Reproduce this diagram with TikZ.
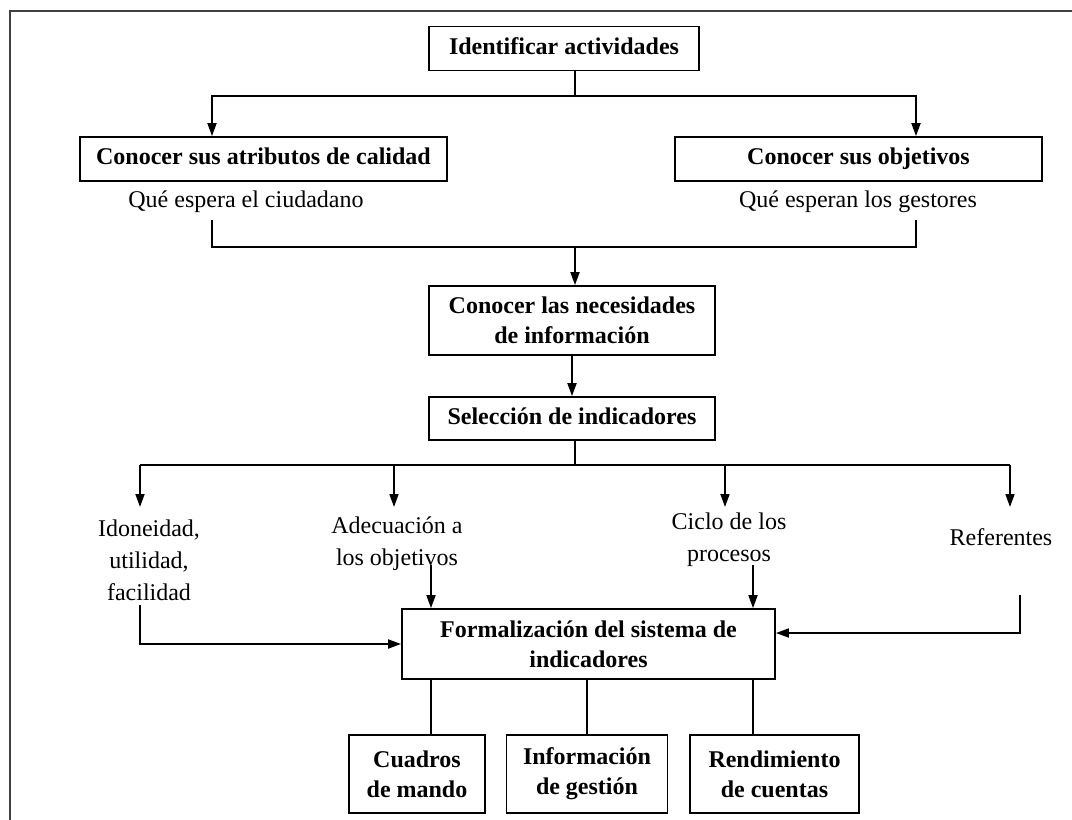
\documentclass[tikz,border=0pt]{standalone}
\usepackage{fontspec}
\setmainfont{Liberation Serif}
\usetikzlibrary{
  positioning,
  arrows.meta
}
\tikzset{
  box/.style={draw, rectangle, align=center, inner sep=0pt,
    font=\bfseries\fontsize{24}{30}\selectfont},
  oneline/.style={text height=17pt, text depth=6pt},
  lbl/.style={align=center, inner sep=0pt,
    font=\fontsize{24}{32}\selectfont}
}

\begin{document}
\begin{tikzpicture}[x=1pt, y=-1pt, ->, >={Triangle[length=13pt,width=9pt]}, line width=1.8pt]
    \useasboundingbox (0,0) rectangle (1072,820);
    % marco
    \draw[-, line width=2.2pt, black!75] (10,820) |- (1072,11);

    \node[box, oneline, minimum width=270pt, minimum height=44pt] (ident) at (564,48.5) {Identificar actividades};
    \node[box, oneline, minimum width=367pt, minimum height=44pt] (atrib) at (263.5,159) {Conocer sus atributos de calidad};
    \node[box, oneline, minimum width=367pt, minimum height=44pt] (objet) at (858.5,159) {Conocer sus objetivos};
    \node[lbl] (ciud) at (246,202) {Qué espera el ciudadano};
    \node[lbl] (gest) at (858,202) {Qué esperan los gestores};
    \node[box, minimum width=286pt, minimum height=69pt] (neces) at (572,320.5) {Conocer las necesidades\\de información};
    \node[box, oneline, minimum width=286pt, minimum height=43pt] (selec) at (572,418.5) {Selección de indicadores};
    \node[lbl] (idon) at (149,560) {Idoneidad,\\utilidad,\\facilidad};
    \node[lbl] (adec) at (397,544) {Adecuación a\\los objetivos};
    \node[lbl] (ciclo) at (729,540) {Ciclo de los\\procesos};
    \node[lbl] (refe) at (1001,537) {Referentes};
    \node[box, minimum width=373pt, minimum height=70pt] (formal) at (588.5,644) {Formalización del sistema de\\indicadores};
    \node[box, minimum width=136pt, minimum height=78pt] (cuad) at (417,774) {Cuadros\\de mando};
    \node[box, minimum width=161pt, minimum height=78pt] (info) at (587,774) {Información\\de gestión};
    \node[box, minimum width=169pt, minimum height=78pt] (rend) at (774.5,774) {Rendimiento\\de cuentas};

    % puntos de paso
    \coordinate (t1) at (575,96);
    \coordinate (t2) at (575,247);
    \coordinate (t3) at (575,465);
    \coordinate (c1) at (212,220);
    \coordinate (c2) at (916,220);
    \foreach \x [count=\i] in {140,394,725,1010}
      \coordinate (s\i) at (\x,507);
    \coordinate (e1) at (140,605);
    \coordinate (e2) at (431,565);
    \coordinate (e3) at (753,565);
    \coordinate (e4) at (1020,595);

    \draw[-] (ident.south -| t1) -- (t1);
    \draw (t1) -| ([xshift=-51.5pt]atrib.north);
    \draw (t1) -| ([xshift=57.5pt]objet.north);
    \draw[-] (c1) |- (t2) -| (c2);
    \draw (t2) -- (t2 |- neces.north);
    \draw (neces) -- (selec);
    \draw[-] (selec.south -| t3) -- (t3);
    \draw[-] (s1 |- t3) -- (s4 |- t3);
    \foreach \i in {1,...,4}
      \draw (s\i |- t3) -- (s\i);

    \draw (e1) |- (formal.west);
    \draw (e2) -- (e2 |- formal.north);
    \draw (e3) -- (e3 |- formal.north);
    \draw (e4) |- ([yshift=11pt]formal.east);

    \draw[-] (e2 |- formal.south) -- (e2 |- cuad.north);
    \draw[-] (formal.south -| info.north) -- (info.north);
    \draw[-] (e3 |- formal.south) -- (e3 |- rend.north);
\end{tikzpicture}
\end{document}
